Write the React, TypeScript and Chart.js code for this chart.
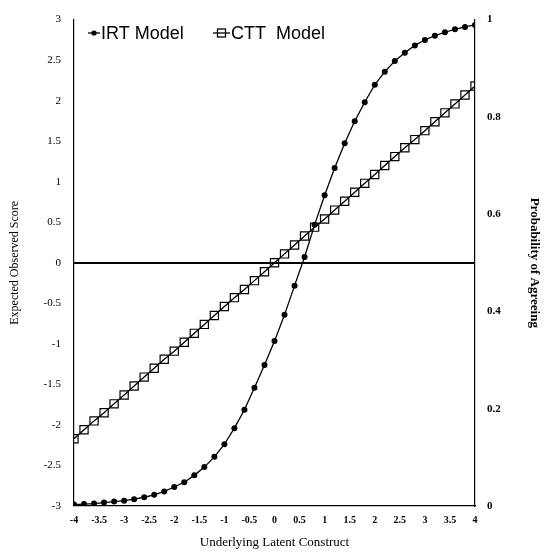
import React, { useEffect, useRef } from "react";
import { Chart, registerables } from "chart.js";

Chart.register(...registerables);

const latentValues = [-4, -3.8, -3.6, -3.4, -3.2, -3, -2.8, -2.6, -2.4, -2.2, -2, -1.8, -1.6, -1.4, -1.2, -1, -0.8, -0.6, -0.4, -0.2, 0, 0.2, 0.4, 0.6, 0.8, 1, 1.2, 1.4, 1.6, 1.8, 2, 2.2, 2.4, 2.6, 2.8, 3, 3.2, 3.4, 3.6, 3.8, 4];

const irtProbability = [0.003, 0.004, 0.005, 0.007, 0.009, 0.011, 0.014, 0.018, 0.023, 0.03, 0.039, 0.049, 0.063, 0.08, 0.101, 0.127, 0.16, 0.198, 0.243, 0.29, 0.339, 0.393, 0.453, 0.512, 0.578, 0.639, 0.695, 0.746, 0.791, 0.83, 0.866, 0.893, 0.915, 0.932, 0.947, 0.958, 0.967, 0.974, 0.98, 0.985, 0.989];

const cttScore = [-2.17, -2.06, -1.95, -1.85, -1.74, -1.63, -1.52, -1.41, -1.3, -1.19, -1.09, -0.98, -0.87, -0.76, -0.65, -0.54, -0.43, -0.33, -0.22, -0.11, 0, 0.11, 0.22, 0.33, 0.44, 0.54, 0.65, 0.76, 0.87, 0.98, 1.09, 1.2, 1.31, 1.42, 1.52, 1.63, 1.74, 1.85, 1.96, 2.07, 2.18];

const seriesNames = ["IRT Model", "CTT  Model"];
const xTitle = "Underlying Latent Construct";
const yTitle = "Expected Observed Score";
const y1Title = "Probability of Agreeing";

const SERIF = "'Liberation Serif', 'Times New Roman', serif";
const SANS = "'Liberation Sans', Arial, sans-serif";

const fmt = (v: any) => String(Math.round(Number(v) * 10) / 10);

const legendPlugin = {
  id: "insideLegend",
  afterDraw(chart: any) {
    const ctx = chart.ctx;
    const y = 33;
    ctx.save();
    ctx.strokeStyle = "#000";
    ctx.fillStyle = "#000";
    ctx.lineWidth = 1.3;
    // IRT
    ctx.beginPath();
    ctx.moveTo(88, y);
    ctx.lineTo(100, y);
    ctx.stroke();
    ctx.beginPath();
    ctx.arc(94, y, 2.6, 0, Math.PI * 2);
    ctx.fill();
    ctx.font = `18px ${SANS}`;
    ctx.textBaseline = "middle";
    ctx.textAlign = "left";
    ctx.fillText(seriesNames[0], 101, y + 1);
    // CTT
    ctx.beginPath();
    ctx.moveTo(213, y);
    ctx.lineTo(230, y);
    ctx.stroke();
    ctx.strokeRect(217.5, y - 4, 8, 8);
    ctx.fillText(seriesNames[1], 231, y + 1);
    ctx.restore();
  },
};

export default function App() {
  const ref = useRef<HTMLCanvasElement | null>(null);
  useEffect(() => {
    if (!ref.current) return;
    const chart = new Chart(ref.current, {
      type: "line",
      data: {
        datasets: [
          {
            label: seriesNames[0],
            data: latentValues.map((x, i) => ({ x, y: irtProbability[i] })),
            yAxisID: "y1",
            borderColor: "#000",
            backgroundColor: "#000",
            borderWidth: 1.3,
            pointRadius: 3,
            pointBorderWidth: 0,
            pointStyle: "circle",
            tension: 0,
          },
          {
            label: seriesNames[1],
            data: latentValues.map((x, i) => ({ x, y: cttScore[i] })),
            yAxisID: "y",
            borderColor: "#000",
            backgroundColor: "rgba(0,0,0,0)",
            borderWidth: 1.3,
            pointRadius: 5.8,
            pointBorderWidth: 1.2,
            pointStyle: "rect",
            tension: 0,
          },
        ],
      },
      options: {
        animation: false,
        responsive: false,
        maintainAspectRatio: false,
        layout: { padding: { top: 12, right: 0, left: 0, bottom: 0 } },
        plugins: { legend: { display: false }, tooltip: { enabled: false } },
        scales: {
          x: {
            type: "linear",
            min: -4,
            max: 4,
            afterFit: (s: any) => { s.height = 51; },
            ticks: { stepSize: 0.5, padding: 8, maxRotation: 0, autoSkip: false, callback: fmt, color: "#000", font: { family: SERIF, size: 10, weight: "bold" } },
            grid: { display: false, drawTicks: false },
            border: { display: true, color: "#000", width: 1.2 },
            title: { display: true, text: xTitle, color: "#000", font: { family: SERIF, size: 13 }, padding: { top: 0, bottom: 7 } },
          },
          y: {
            position: "left",
            min: -3,
            max: 3,
            afterFit: (s: any) => { s.width = 74; },
            ticks: { stepSize: 0.5, padding: 13, callback: fmt, color: "#000", font: { family: SERIF, size: 11 } },
            grid: {
              drawTicks: false,
              color: (c: any) => (c.tick && c.tick.value === 0 ? "#000" : "rgba(0,0,0,0)"),
              lineWidth: (c: any) => (c.tick && c.tick.value === 0 ? 2 : 0),
            },
            border: { display: true, color: "#000", width: 1.2 },
            title: { display: true, text: yTitle, color: "#000", font: { family: SERIF, size: 12 }, padding: { top: 8, bottom: 0 } },
          },
          y1: {
            position: "right",
            min: 0,
            max: 1,
            afterFit: (s: any) => { s.width = 70; },
            ticks: { stepSize: 0.2, padding: 12, callback: fmt, color: "#000", font: { family: SERIF, size: 11, weight: "bold" } },
            grid: { display: false, drawTicks: false },
            border: { display: true, color: "#000", width: 1.2 },
            title: { display: true, text: y1Title, color: "#000", font: { family: SERIF, size: 13, weight: "bold" }, padding: { top: 3, bottom: 0 } },
          },
        },
      },
      plugins: [legendPlugin],
    });
    return () => chart.destroy();
  }, []);
  return (
    <div style={{ position: "absolute", left: 0, top: 0, width: 545, height: 557, background: "#fff" }}>
      <canvas ref={ref} width={545} height={557} style={{ display: "block" }} />
    </div>
  );
}
